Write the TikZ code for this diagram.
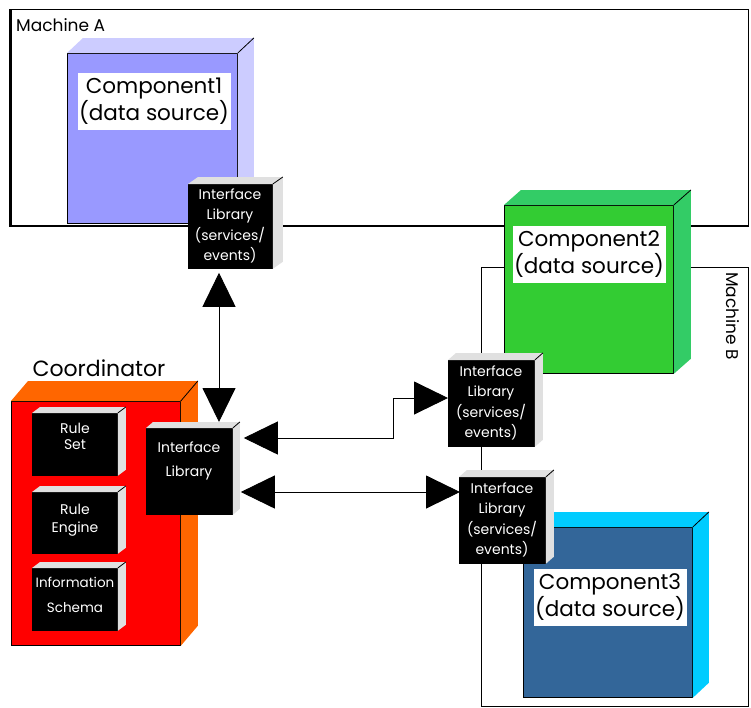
\documentclass[tikz,border=0pt]{standalone}
\usepackage{fontspec}
\setmainfont{Poppins}
\usetikzlibrary{arrows.meta,calc}
\definecolor{cAf}{HTML}{9999FF}
\definecolor{cAs}{HTML}{CCCCFF}
\definecolor{cBf}{HTML}{33CC33}
\definecolor{cBs}{HTML}{33CC66}
\definecolor{cCf}{HTML}{336699}
\definecolor{cCs}{HTML}{00CCFF}
\definecolor{coF}{HTML}{FF0000}
\definecolor{coS}{HTML}{FF6600}
\definecolor{grayside}{HTML}{E0E0E0}
\tikzset{
  front/.style={draw=black, line width=0.8pt, inner sep=0pt, anchor=north west},
  blk/.style={front, fill=black},
  lbl/.style={fill=white, inner sep=0pt, align=center, minimum width=153, minimum height=57,
              font=\fontsize{21.5}{27}\selectfont},
  iltext/.style={text=white, align=center, inner sep=0pt, font=\fontsize{14}{20.5}\selectfont},
  machine/.style={draw=black, line width=1pt},
  conn/.style={line width=0.9pt, {Triangle[length=34pt,width=33pt]}-{Triangle[length=34pt,width=33pt]}},
}
\newcommand\boxdepth[4]{%
  \fill[#4] (#1.north west) -- ++(#2,-#3) -- ($(#1.north east)+(#2,-#3)$) -- ($(#1.south east)+(#2,-#3)$) -- (#1.south east) -- (#1.north east) -- cycle;
  \draw[line width=0.8pt] (#1.north east) -- ++(#2,-#3);}
\begin{document}
\begin{tikzpicture}[x=1pt,y=-1pt]
\useasboundingbox[fill=white] (0,0) rectangle (751,707);
% Machine A
\draw[machine] (10,9) rectangle (748,226);
\draw[line width=2.5pt] (10.5,9) -- (10.5,226) -- (748,226);
\node[anchor=west, inner sep=0pt, font=\fontsize{17}{19}\selectfont] (ma) at (16,25) {Machine A};
% Machine B
\draw[machine] (481,267) rectangle (748,706);
\node[rotate=-90, inner sep=0pt, font=\fontsize{17}{19}\selectfont] (mb) at (733,316) {Machine B};
% Component1
\node[front, fill=cAf, minimum width=170, minimum height=170] (c1) at (67,53) {};
\boxdepth{c1}{16}{15}{cAs}
\node[lbl] (c1l) at (154,101.5) {Component1\\(data source)};
% Component2
\node[front, fill=cBf, minimum width=169, minimum height=168] (c2) at (504,205) {};
\boxdepth{c2}{17}{15}{cBs}
\node[lbl] (c2l) at (589,254.5) {Component2\\(data source)};
% Component3
\node[front, fill=cCf, minimum width=169, minimum height=170] (c3) at (523,527) {};
\boxdepth{c3}{16}{15}{cCs}
\node[lbl] (c3l) at (610,597.5) {Component3\\(data source)};
% Coordinator
\node[front, fill=coF, minimum width=169, minimum height=244] (co) at (11,401) {};
\boxdepth{co}{17}{20}{coS}
\node[inner sep=0pt, font=\fontsize{22}{26}\selectfont] (col) at (99,368) {Coordinator};
\node[blk, minimum width=85, minimum height=62] (rs) at (32,413) {};
\boxdepth{rs}{8}{6}{grayside}
\node[iltext, font=\fontsize{14}{16}\selectfont] (rst) at (75,436) {Rule\\Set};
\node[blk, minimum width=85, minimum height=61] (re) at (32,492) {};
\boxdepth{re}{8}{6}{grayside}
\node[iltext, font=\fontsize{14}{18}\selectfont] (ret) at (75,520) {Rule\\Engine};
\node[blk, minimum width=85, minimum height=62] (is) at (32,568) {};
\boxdepth{is}{8}{6}{grayside}
\node[iltext, font=\fontsize{13.5}{25}\selectfont] (ist) at (75,594.5) {Information\\Schema};
% Interface libraries
\node[blk, minimum width=86, minimum height=86] (ilc) at (146,428) {};
\boxdepth{ilc}{7}{6}{grayside}
\node[iltext, font=\fontsize{14}{24}\selectfont] (ilct) at (189,461) {Interface\\Library};
\node[blk, minimum width=84, minimum height=84] (il1) at (188,184) {};
\boxdepth{il1}{10}{7}{grayside}
\node[iltext] (il1t) at (230,226) {Interface\\Library\\(services/\\events)};
\node[blk, minimum width=86, minimum height=86] (il2) at (448,360) {};
\boxdepth{il2}{8}{7}{grayside}
\node[iltext] (il2t) at (491,403) {Interface\\Library\\(services/\\events)};
\node[blk, minimum width=86, minimum height=86] (il3) at (459,477) {};
\boxdepth{il3}{8}{7}{grayside}
\node[iltext] (il3t) at (502,520) {Interface\\Library\\(services/\\events)};
% connectors
\coordinate (vx) at (219,0);
\coordinate (a1) at (0,438);
\coordinate (a1b) at (393,398);
\coordinate (a2) at (0,492);
\draw[conn, shorten <=4pt, shorten >=6pt] (vx |- il1.south) -- (vx |- ilc.north);
\draw[conn, shorten <=11pt] (ilc.east |- a1) -| (a1b) -- (il2.west |- a1b);
\draw[conn, shorten <=8pt, shorten >=-1pt] (ilc.east |- a2) -- (il3.west |- a2);
\end{tikzpicture}
\end{document}
